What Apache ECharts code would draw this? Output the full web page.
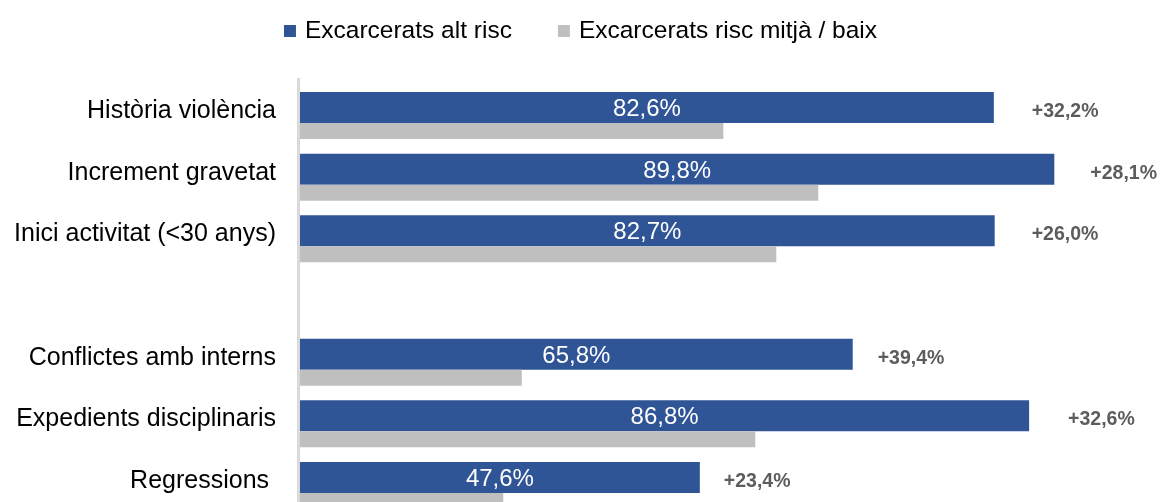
<!DOCTYPE html>
<html>
<head>
<meta charset="utf-8">
<script src="https://cdn.jsdelivr.net/npm/echarts@6/dist/echarts.min.js"></script>
<style>
html,body{margin:0;padding:0;background:#fff;overflow:hidden;}
#chart{width:1161px;height:530px;}
</style>
</head>
<body>
<div id="chart"></div>
<script>
// ---- data ----
const categories = ['Història violència', 'Increment gravetat', 'Inici activitat (<30 anys)', '', 'Conflictes amb interns', 'Expedients disciplinaris', 'Regressions '];
const seriesNames = ['Excarcerats alt risc', 'Excarcerats risc mitjà / baix'];
const highRisk = [82.6, 89.8, 82.7, null, 65.8, 86.8, 47.6];
const midLowRisk = [50.4, 61.7, 56.7, null, 26.4, 54.2, 24.2];
const diffLabels = ['+32,2%', '+28,1%', '+26,0%', '', '+39,4%', '+32,6%', '+23,4%'];

// ---- style ----
const diffLabelGap = [38, 36, 37, 0, 25, 39, 24];
const FONT = '"Liberation Sans", Arial, sans-serif';
const BLUE = '#2F5597';
const GRAY = '#BFBFBF';

const chart = echarts.init(document.getElementById('chart'), null, {renderer: 'canvas'});

const fmt = v => v.toFixed(1).replace('.', ',') + '%';

chart.setOption({
  animation: false,
  textStyle: {fontFamily: FONT},
  legend: {
    data: seriesNames,
    top: 13,
    left: 'center',
    icon: 'rect',
    itemWidth: 12,
    itemHeight: 12,
    itemGap: 46,
    textStyle: {fontFamily: FONT, fontSize: 24.5, color: '#000', lineHeight: 26, padding: [0, 0, 0, 4]}
  },
  grid: {left: 300, right: 21, top: 84.67, bottom: 13.67, containLabel: false},
  xAxis: {
    type: 'value', min: 0, max: 100,
    show: false
  },
  yAxis: {
    type: 'category',
    data: categories,
    inverse: true,
    axisLine: {show: false},
    axisTick: {show: false},
    axisLabel: {
      fontFamily: FONT, fontSize: 25, color: '#000',
      margin: 24,
      verticalAlign: 'bottom',
      lineHeight: 9
    }
  },
  graphic: [{
    type: 'rect',
    shape: {x: 297, y: 78, width: 3, height: 450},
    style: {fill: '#D9D9D9'},
    z: 10
  }],
  series: [
    {
      name: seriesNames[0],
      type: 'bar',
      data: highRisk,
      barWidth: 31,
      barGap: '0%',
      itemStyle: {color: BLUE},
      label: {
        show: true, position: 'inside', offset: [0, 2],
        color: '#fff', fontFamily: FONT, fontSize: 24,
        formatter: p => p.value == null ? '' : fmt(p.value)
      }
    },
    {
      name: seriesNames[1],
      type: 'bar',
      data: midLowRisk,
      barWidth: 16,
      barGap: '0%',
      itemStyle: {color: GRAY}
    },
    {
      type: 'scatter',
      symbolSize: 0,
      silent: true,
      data: highRisk.map((v, i) => v == null ? null : {
        value: [v, i],
        label: {offset: [diffLabelGap[i], -4]}
      }),
      label: {
        show: true, position: 'right', distance: 0,
        color: '#333333', fontFamily: FONT, fontSize: 19.5, fontWeight: 'bold',
        formatter: p => diffLabels[p.dataIndex]
      }
    }
  ]
});
</script>
</body>
</html>
